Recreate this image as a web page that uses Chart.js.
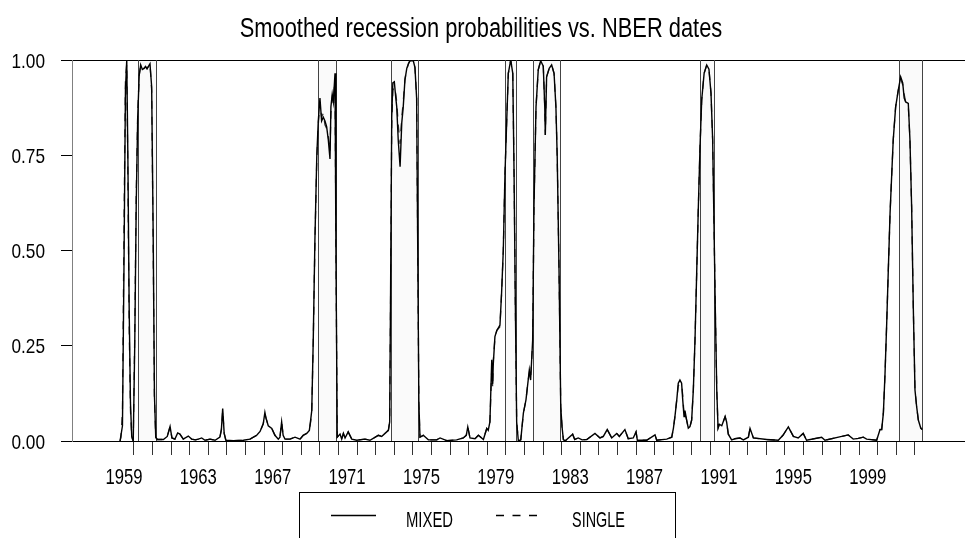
<!DOCTYPE html>
<html>
<head>
<meta charset="utf-8">
<title>Smoothed recession probabilities vs. NBER dates</title>
<script src="https://cdn.jsdelivr.net/npm/chart.js@4.4.1/dist/chart.umd.min.js"></script>
<style>
  html, body { margin: 0; padding: 0; background: #fff; }
  #wrap { width: 965px; height: 538px; }
</style>
</head>
<body>
<div id="wrap"><canvas id="probChart"></canvas></div>
<script>
// monthly-ish dates (decimal years) and smoothed probabilities
var dates = [
  1959.25, 1959.30, 1959.38, 1959.46, 1959.54, 1959.61, 1959.67, 1959.74, 1959.81, 1959.88,
  1959.96, 1960.04, 1960.12, 1960.20, 1960.28, 1960.36, 1960.45, 1960.54, 1960.62, 1960.70,
  1960.80, 1960.86, 1960.95, 1961.03, 1961.10, 1961.17, 1961.25, 1961.40, 1961.58, 1961.79,
  1961.94, 1962.04, 1962.20, 1962.35, 1962.47, 1962.65, 1962.92, 1963.10, 1963.30, 1963.46,
  1963.64, 1963.82, 1964.09, 1964.36, 1964.62, 1964.70, 1964.77, 1964.85, 1964.94, 1965.34,
  1965.88, 1966.24, 1966.42, 1966.60, 1966.78, 1966.95, 1967.04, 1967.10, 1967.22, 1967.41,
  1967.58, 1967.76, 1967.85, 1967.94, 1968.02, 1968.12, 1968.39, 1968.66, 1968.93, 1969.10,
  1969.29, 1969.43, 1969.50, 1969.56, 1969.64, 1969.73, 1969.83, 1969.91, 1970.00, 1970.09,
  1970.18, 1970.27, 1970.36, 1970.45, 1970.54, 1970.59, 1970.66, 1970.72, 1970.81, 1970.86,
  1970.93, 1971.08, 1971.17, 1971.26, 1971.35, 1971.52, 1971.71, 1971.98, 1972.42, 1972.69,
  1973.14, 1973.32, 1973.50, 1973.68, 1973.75, 1973.80, 1973.86, 1973.92, 1974.00, 1974.08,
  1974.13, 1974.21, 1974.31, 1974.40, 1974.48, 1974.57, 1974.67, 1974.76, 1974.84, 1975.02,
  1975.11, 1975.20, 1975.26, 1975.32, 1975.38, 1975.56, 1975.83, 1976.28, 1976.46, 1976.82,
  1977.35, 1977.71, 1977.87, 1977.95, 1978.07, 1978.34, 1978.52, 1978.79, 1978.97, 1979.05,
  1979.14, 1979.24, 1979.29, 1979.32, 1979.41, 1979.51, 1979.68, 1979.77, 1979.86, 1979.95,
  1980.04, 1980.13, 1980.26, 1980.37, 1980.44, 1980.51, 1980.58, 1980.67, 1980.80, 1980.94,
  1981.08, 1981.20, 1981.26, 1981.33, 1981.44, 1981.51, 1981.62, 1981.74, 1981.87, 1982.01,
  1982.09, 1982.12, 1982.19, 1982.33, 1982.46, 1982.59, 1982.69, 1982.76, 1982.86, 1982.95,
  1983.02, 1983.09, 1983.18, 1983.59, 1983.70, 1983.89, 1984.10, 1984.35, 1984.79, 1985.06,
  1985.24, 1985.45, 1985.69, 1985.96, 1986.10, 1986.40, 1986.58, 1986.85, 1987.00, 1987.07,
  1987.57, 1988.02, 1988.11, 1988.65, 1988.92, 1989.01, 1989.09, 1989.19, 1989.27, 1989.36,
  1989.45, 1989.51, 1989.58, 1989.63, 1989.72, 1989.81, 1989.90, 1989.99, 1990.08, 1990.17,
  1990.26, 1990.35, 1990.44, 1990.53, 1990.66, 1990.80, 1990.92, 1991.03, 1991.12, 1991.19,
  1991.26, 1991.34, 1991.41, 1991.48, 1991.61, 1991.79, 1991.87, 1991.96, 1992.14, 1992.32,
  1992.59, 1992.77, 1993.04, 1993.13, 1993.31, 1994.03, 1994.65, 1994.90, 1995.19, 1995.46,
  1995.72, 1995.99, 1996.17, 1996.98, 1997.16, 1998.41, 1998.68, 1998.95, 1999.22, 1999.40,
  1999.94, 2000.12, 2000.21, 2000.30, 2000.39, 2000.48, 2000.56, 2000.66, 2000.75, 2000.83,
  2000.96, 2001.10, 2001.23, 2001.34, 2001.42, 2001.50, 2001.64, 2001.73, 2001.82, 2001.91,
  2002.00, 2002.09, 2002.18, 2002.31, 2002.39
];

var mixed = [
  0, 0, 0.04, 0.45, 0.92, 1.0, 0.75, 0.35, 0.10, 0.01,
  0, 0.25, 0.62, 0.85, 0.96, 0.987, 0.975, 0.978, 0.983, 0.977,
  0.985, 0.99, 0.93, 0.55, 0.12, 0.01, 0.004, 0.004, 0.004, 0.012,
  0.038, 0.008, 0.005, 0.021, 0.018, 0.005, 0.013, 0.005, 0.003, 0.005,
  0.008, 0.002, 0.005, 0.002, 0.01, 0.03, 0.085, 0.02, 0.002, 0.001,
  0.002, 0.005, 0.01, 0.015, 0.025, 0.045, 0.075, 0.06, 0.04, 0.033,
  0.015, 0.005, 0.01, 0.05, 0.015, 0.005, 0.005, 0.01, 0.005, 0.015,
  0.02, 0.028, 0.055, 0.08, 0.265, 0.53, 0.746, 0.84, 0.90, 0.84,
  0.85, 0.84, 0.825, 0.79, 0.74, 0.877, 0.91, 0.89, 0.965, 0.5,
  0.01, 0.018, 0.005, 0.02, 0.008, 0.024, 0.005, 0.002, 0.005, 0.002,
  0.015, 0.012, 0.02, 0.028, 0.05, 0.4, 0.85, 0.94, 0.943, 0.9,
  0.877, 0.79, 0.72, 0.835, 0.877, 0.947, 0.978, 0.99, 0.998, 0.998,
  0.98, 0.9, 0.5, 0.1, 0.01, 0.015, 0.003, 0.003, 0.008, 0.001,
  0.003, 0.008, 0.015, 0.037, 0.008, 0.006, 0.015, 0.004, 0.033, 0.028,
  0.05, 0.213, 0.15, 0.2, 0.274, 0.29, 0.304, 0.39, 0.50, 0.70,
  0.835, 0.965, 1.0, 0.965, 0.7, 0.35, 0.05, 0.0, 0.003, 0.073,
  0.108, 0.16, 0.186, 0.16, 0.265, 0.615, 0.877, 0.974, 0.998, 0.984,
  0.877, 0.803, 0.956, 0.978, 0.987, 0.965, 0.877, 0.746, 0.44, 0.09,
  0.037, 0.004, 0.0, 0.018, 0.004, 0.008, 0.003, 0.004, 0.02, 0.008,
  0.012, 0.03, 0.008, 0.02, 0.012, 0.03, 0.006, 0.008, 0.024, 0.002,
  0.002, 0.016, 0.002, 0.005, 0.01, 0.034, 0.064, 0.108, 0.152, 0.16,
  0.152, 0.108, 0.064, 0.08, 0.055, 0.034, 0.038, 0.055, 0.134, 0.265,
  0.44, 0.615, 0.772, 0.895, 0.965, 0.987, 0.976, 0.913, 0.79, 0.572,
  0.352, 0.134, 0.034, 0.044, 0.04, 0.064, 0.05, 0.018, 0.003, 0.006,
  0.008, 0.003, 0.01, 0.033, 0.008, 0.004, 0.002, 0.015, 0.037, 0.012,
  0.008, 0.02, 0.002, 0.01, 0.002, 0.016, 0.005, 0.007, 0.01, 0.005,
  0.002, 0.03, 0.03, 0.073, 0.178, 0.31, 0.44, 0.598, 0.70, 0.79,
  0.877, 0.92, 0.956, 0.94, 0.90, 0.89, 0.886, 0.79, 0.615, 0.35,
  0.134, 0.09, 0.055, 0.034, 0.03
];

var single = [
  0, 0.01, 0.08, 0.55, 0.95, 0.99, 0.70, 0.30, 0.08, 0.01,
  0, 0.28, 0.65, 0.86, 0.96, 0.985, 0.975, 0.978, 0.982, 0.977,
  0.985, 0.99, 0.92, 0.52, 0.11, 0.01, 0.004, 0.004, 0.004, 0.012,
  0.038, 0.008, 0.005, 0.021, 0.018, 0.005, 0.013, 0.005, 0.003, 0.005,
  0.008, 0.002, 0.005, 0.002, 0.01, 0.03, 0.08, 0.02, 0.002, 0.001,
  0.002, 0.005, 0.01, 0.015, 0.025, 0.045, 0.07, 0.06, 0.04, 0.033,
  0.015, 0.005, 0.01, 0.05, 0.015, 0.005, 0.005, 0.01, 0.005, 0.015,
  0.02, 0.028, 0.05, 0.08, 0.26, 0.52, 0.74, 0.83, 0.89, 0.85,
  0.86, 0.83, 0.82, 0.80, 0.76, 0.86, 0.90, 0.89, 0.95, 0.5,
  0.01, 0.018, 0.005, 0.02, 0.008, 0.024, 0.005, 0.002, 0.005, 0.002,
  0.015, 0.012, 0.02, 0.028, 0.05, 0.38, 0.83, 0.92, 0.93, 0.91,
  0.89, 0.83, 0.78, 0.85, 0.89, 0.95, 0.975, 0.99, 0.998, 0.998,
  0.98, 0.9, 0.5, 0.1, 0.01, 0.015, 0.003, 0.003, 0.008, 0.001,
  0.003, 0.008, 0.015, 0.037, 0.008, 0.006, 0.015, 0.004, 0.033, 0.028,
  0.05, 0.19, 0.14, 0.21, 0.27, 0.29, 0.30, 0.39, 0.50, 0.70,
  0.835, 0.965, 1.0, 0.965, 0.7, 0.35, 0.05, 0.0, 0.003, 0.073,
  0.108, 0.16, 0.18, 0.165, 0.26, 0.61, 0.877, 0.974, 0.998, 0.984,
  0.877, 0.803, 0.956, 0.978, 0.987, 0.965, 0.877, 0.746, 0.44, 0.09,
  0.037, 0.004, 0.0, 0.018, 0.004, 0.008, 0.003, 0.004, 0.02, 0.008,
  0.012, 0.03, 0.008, 0.02, 0.012, 0.03, 0.006, 0.008, 0.024, 0.002,
  0.002, 0.016, 0.002, 0.005, 0.01, 0.034, 0.064, 0.11, 0.145, 0.15,
  0.15, 0.12, 0.07, 0.075, 0.055, 0.034, 0.038, 0.055, 0.134, 0.265,
  0.44, 0.615, 0.772, 0.895, 0.965, 0.987, 0.976, 0.913, 0.79, 0.572,
  0.352, 0.134, 0.034, 0.044, 0.04, 0.064, 0.05, 0.018, 0.003, 0.006,
  0.008, 0.003, 0.01, 0.033, 0.008, 0.004, 0.002, 0.015, 0.037, 0.012,
  0.008, 0.02, 0.002, 0.01, 0.002, 0.016, 0.005, 0.007, 0.01, 0.005,
  0.002, 0.03, 0.03, 0.073, 0.178, 0.31, 0.44, 0.598, 0.70, 0.79,
  0.877, 0.92, 0.95, 0.935, 0.91, 0.89, 0.88, 0.79, 0.615, 0.35,
  0.134, 0.09, 0.055, 0.034, 0.03
];

// NBER recession bands (decimal years)
var recStart = [1960.22, 1969.88, 1973.80, 1979.97, 1981.46, 1990.45, 2001.12];
var recEnd   = [1961.17, 1970.86, 1975.27, 1980.54, 1982.91, 1991.20, 2002.39];

// axes
var yTicks = [0, 0.25, 0.5, 0.75, 1];
var tickYears = [1960, 1961, 1962, 1963, 1964, 1965, 1966, 1967, 1968, 1969, 1970,
  1971, 1972, 1973, 1974, 1975, 1976, 1977, 1978, 1979, 1980, 1981, 1982, 1983,
  1984, 1985, 1986, 1987, 1988, 1989, 1990, 1991, 1992, 1993, 1994, 1995, 1996,
  1997, 1998, 1999, 2000, 2001, 2002];
var yearLabels = [1959, 1963, 1967, 1971, 1975, 1979, 1983, 1987, 1991, 1995, 1999];
var chartTitle = 'Smoothed recession probabilities vs. NBER dates';

var xMin = 1956.666, xMax = 2004.69;
var labelShift = 0.46;
var fam = '"Liberation Sans", Arial, sans-serif';

// the original uses a narrow Helvetica, so text is drawn squeezed horizontally
function narrowText(ctx, t, x, y, size, sx, align) {
  ctx.save();
  ctx.translate(x, y);
  ctx.scale(sx, 1);
  ctx.font = size + 'px ' + fam;
  ctx.fillStyle = '#000';
  ctx.textAlign = align;
  ctx.textBaseline = 'alphabetic';
  ctx.fillText(t, 0, 0);
  ctx.restore();
}

var recessionShade = {
  id: 'recessionShade',
  beforeDatasetsDraw: function (chart) {
    var ctx = chart.ctx, area = chart.chartArea, x = chart.scales.x;
    ctx.save();
    for (var i = 0; i < recStart.length; i++) {
      var x0 = Math.round(x.getPixelForValue(recStart[i])) + 0.5;
      var x1 = Math.round(x.getPixelForValue(recEnd[i])) + 0.5;
      ctx.fillStyle = '#fafafa';
      ctx.fillRect(x0, area.top + 1, x1 - x0, area.bottom - area.top - 2);
      ctx.strokeStyle = '#444';
      ctx.lineWidth = 1;
      ctx.beginPath();
      ctx.moveTo(x0, area.top); ctx.lineTo(x0, area.bottom);
      ctx.moveTo(x1, area.top); ctx.lineTo(x1, area.bottom);
      ctx.stroke();
    }
    ctx.restore();
  }
};

// title and tick labels, placed through the chart's scales
var textLayer = {
  id: 'textLayer',
  afterDraw: function (chart) {
    var ctx = chart.ctx, x = chart.scales.x, y = chart.scales.y;
    narrowText(ctx, chartTitle, 481, 36.5, 27, 0.81, 'center');
    yTicks.forEach(function (v) {
      narrowText(ctx, v.toFixed(2), 45, y.getPixelForValue(v) + 7.5, 21, 0.82, 'right');
    });
    yearLabels.forEach(function (yr) {
      narrowText(ctx, String(yr), x.getPixelForValue(yr + labelShift), 483.5, 22.5, 0.74, 'center');
    });
  }
};

// boxed legend below the axis, like the original
var boxLegend = {
  id: 'boxLegend',
  afterDraw: function (chart) {
    var ctx = chart.ctx;
    var ds = chart.data.datasets;
    ctx.save();
    ctx.strokeStyle = '#000';
    ctx.lineWidth = 1;
    ctx.strokeRect(299.5, 492.5, 376, 80);

    ctx.strokeStyle = '#000';
    ctx.lineWidth = 1.3;
    ctx.beginPath(); ctx.moveTo(331, 515.5); ctx.lineTo(376, 515.5); ctx.stroke();

    ctx.setLineDash([8, 8.5]);
    ctx.beginPath(); ctx.moveTo(496, 515.5); ctx.lineTo(537, 515.5); ctx.stroke();
    ctx.setLineDash([]);
    ctx.restore();

    narrowText(ctx, ds[0].label, 429.5, 526.5, 22.5, 0.66, 'center');
    narrowText(ctx, ds[1].label, 598.5, 526.5, 22.5, 0.64, 'center');
  }
};

var probChart = new Chart(document.getElementById('probChart'), {
  type: 'line',
  data: {
    datasets: [{
      label: 'MIXED',
      data: dates.map(function (d, i) { return { x: d, y: mixed[i] }; }),
      borderColor: '#000',
      borderWidth: 1.4,
      pointRadius: 0,
      fill: false,
      tension: 0
    }, {
      label: 'SINGLE',
      data: dates.map(function (d, i) { return { x: d, y: single[i] }; }),
      borderColor: '#333',
      borderWidth: 1.3,
      borderDash: [8, 8],
      pointRadius: 0,
      fill: false,
      tension: 0
    }]
  },
  options: {
    responsive: true,
    maintainAspectRatio: false,
    animation: false,
    layout: { padding: { top: 60, left: 0, right: 0, bottom: 0 } },
    plugins: {
      legend: { display: false },
      tooltip: { enabled: false },
      title: { display: false }
    },
    scales: {
      x: {
        type: 'linear',
        position: 'bottom',
        min: xMin,
        max: xMax,
        afterBuildTicks: function (s) { s.ticks = tickYears.map(function (v) { return { value: v }; }); },
        afterFit: function (s) { s.height = 97; },
        ticks: { display: false },
        grid: { drawOnChartArea: false, drawTicks: true, tickLength: 14, color: '#333' },
        border: { display: false }
      },
      y: {
        min: 0,
        max: 1,
        afterBuildTicks: function (s) { s.ticks = yTicks.map(function (v) { return { value: v }; }); },
        afterFit: function (s) { s.width = 72; },
        ticks: { display: false },
        grid: {
          color: function (c) { return (c.tick && (c.tick.value === 0 || c.tick.value === 1)) ? '#000' : 'rgba(0,0,0,0)'; },
          tickColor: '#000',
          tickLength: 11,
          lineWidth: 1
        },
        border: { display: true, color: '#808080' }
      }
    }
  },
  plugins: [recessionShade, textLayer, boxLegend]
});
</script>
</body>
</html>
